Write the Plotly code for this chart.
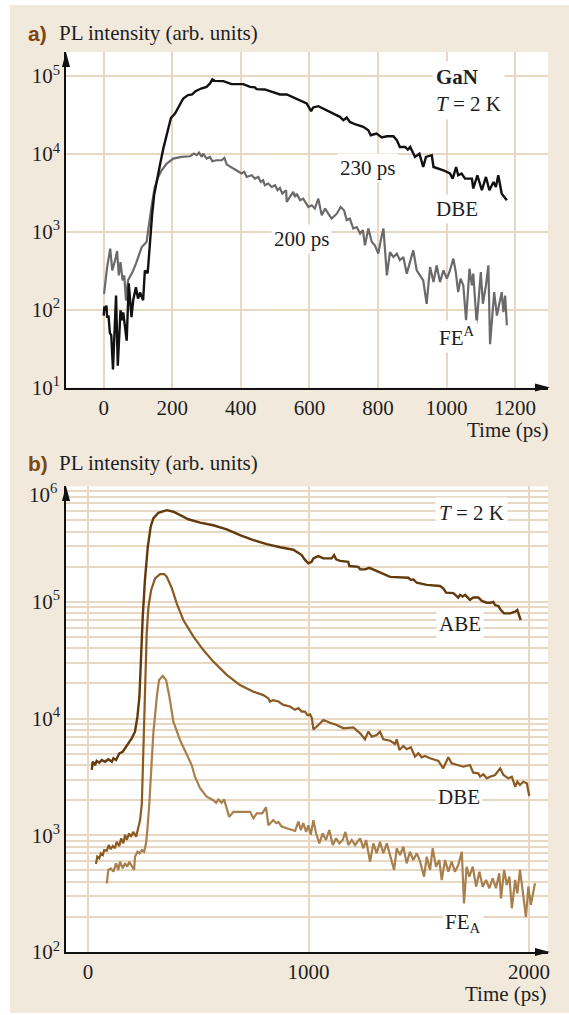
import plotly.graph_objects as go

W, H = 569, 1015

# ---------------- panel a: GaN, T = 2 K ----------------
t_dbe_a = [0, 2, 4, 8, 10, 14, 18, 22, 27, 36, 41, 49, 53, 57, 67, 73, 81, 86, 94, 100,
           106, 115, 120, 128, 130, 135, 141, 147, 154, 164, 174, 183, 196, 208, 217, 232,
           246, 258, 268, 284, 300, 310, 317, 324, 349, 373, 407, 427, 441, 446, 470, 499,
           514, 534, 558, 592, 605, 611, 626, 660, 689, 699, 709, 718, 733, 757, 772, 779,
           796, 811, 826, 845, 855, 864, 879, 887, 894, 908, 921, 932, 940, 957, 962, 991,
           1010, 1018, 1028, 1034, 1044, 1054, 1074, 1078, 1090, 1103, 1115, 1125, 1137,
           1144, 1151, 1161, 1176]
dbe_a = [84, 110, 98, 113, 79, 84, 50, 47, 17, 152, 19, 98, 73, 92, 40, 218, 80, 132, 194, 139,
         166, 132, 318, 294, 372, 830, 1630, 2940, 4370, 7200, 11800, 17400, 29000, 33000, 38400, 51600,
         57000, 58200, 64100, 69300, 72800, 80600, 90700, 87000, 86300, 78900, 78900, 72800, 71600, 68100, 67400, 61700,
         58200, 58200, 52600, 44500, 35500, 39600, 41100, 34700, 30000, 27200, 29400, 25800, 24100, 22300, 20200, 17400,
         18300, 16300, 16900, 16900, 15000, 12300, 12300, 11400, 12300, 9160, 10100, 6800, 9160, 9640, 6800, 6180,
         5610, 4830, 6800, 5330, 5610, 4830, 4830, 3600, 5330, 3420, 5070, 3420, 4370,
         3770, 5330, 3090, 2540]

t_fe_a = [1, 10, 19, 25, 33, 39, 44, 49, 55, 60, 65, 71, 84, 94, 111, 125, 140, 149, 159, 169,
          184, 203, 227, 252, 263, 271, 278, 286, 290, 300, 310, 317, 329, 344, 352, 359, 383,
          402, 410, 417, 432, 441, 451, 458, 465, 470, 480, 490, 500, 507, 514, 521, 532, 534,
          543, 553, 558, 563, 573, 582, 597, 607, 616, 626, 636, 646, 655, 665, 680, 691, 701,
          709, 718, 728, 738, 748, 756, 762, 772, 782, 791, 801, 808, 816, 826, 835, 845, 855,
          864, 874, 884, 894, 903, 913, 923, 932, 942, 952, 962, 971, 981, 991, 1001, 1010,
          1020, 1027, 1034, 1041, 1049, 1057, 1067, 1074, 1078, 1088, 1100, 1106, 1115, 1122,
          1127, 1139, 1147, 1153, 1161, 1166, 1171, 1176]
fe_a = [160, 352, 608, 320, 427, 566, 275, 407, 238, 275, 131, 238, 304, 389, 638, 741, 2190, 3770, 5070, 6180,
        7530, 8720, 9160, 9350, 10100, 9640, 10400, 9160, 10100, 8720, 9160, 8070, 8310, 8310, 8900, 7310, 6310,
        5610, 5890, 5070, 5330, 4830, 5070, 4370, 4590, 3960, 4170, 3770, 3960, 3420, 3660, 3090, 3420, 2420,
        2800, 3250, 2800, 3090, 2540, 2670, 2080, 2190, 1990, 2670, 1630, 1990, 1710, 1480, 1710, 2080, 1890,
        1410, 1480, 1100, 1150, 950, 1050, 670, 1100, 740, 670, 525, 776, 1100, 275, 550, 474, 525,
        431, 474, 290, 431, 578, 320, 275, 238, 119, 352, 226, 371, 226, 320, 250, 320,
        452, 304, 168, 250, 205, 73, 337, 205, 290, 66, 304, 119, 205, 371,
        36, 168, 84, 113, 168, 93, 152, 63]

ticks_a_x = [0, 200, 400, 600, 800, 1000, 1200]
ticks_a_y = [1e1, 1e2, 1e3, 1e4, 1e5]
labels_a_y = ["10<sup>1</sup>", "10<sup>2</sup>", "10<sup>3</sup>", "10<sup>4</sup>", "10<sup>5</sup>"]

# ---------------- panel b: T = 2 K ----------------
t_abe_b = [17, 21, 32, 39, 51, 62, 77, 92, 108, 115, 127, 142, 157, 168, 183, 198, 213, 221, 224, 233,
           240, 248, 258, 271, 284, 296, 319, 357, 387, 417, 455, 508, 568, 629, 689, 750, 810, 871,
           931, 969, 984, 999, 1014, 1022, 1044, 1067, 1105, 1116, 1125, 1143, 1180, 1185, 1226, 1234,
           1256, 1276, 1324, 1370, 1453, 1464, 1475, 1491, 1536, 1581, 1596, 1611, 1624, 1657, 1679,
           1687, 1699, 1710, 1732, 1747, 1770, 1786, 1808, 1826, 1838, 1846, 1861, 1872, 1887, 1914,
           1937, 1947, 1962]
abe_b = [3630, 4270, 4000, 4350, 4190, 4420, 4270, 4480, 4270, 4570, 4420, 5040, 5200, 5560, 6050, 6780, 7730, 9120, 10400, 15400,
         34000, 74700, 154000, 297000, 441000, 520000, 581000, 612000, 593000, 556000, 511000, 478000, 454000, 419000, 374000, 339000, 313000, 294000,
         280000, 252000, 229000, 214000, 221000, 236000, 247000, 236000, 236000, 252000, 232000, 225000, 221000, 203000, 200000, 190000,
         190000, 196000, 178000, 164000, 161000, 154000, 156000, 146000, 140000, 137000, 137000, 131000, 120000, 119000, 109000,
         115000, 111000, 115000, 104000, 109000, 109000, 102000, 98400, 98400, 100000, 94000, 92200, 85300, 79800, 79800,
         82400, 85300, 70000]

t_dbe_b = [36, 42, 51, 58, 67, 73, 85, 94, 103, 112, 122, 130, 142, 150, 160, 168, 176, 186, 195, 205,
           218, 228, 236, 244, 248, 251, 259, 266, 274, 286, 304, 327, 346, 357, 380, 402, 432, 478,
           523, 568, 629, 689, 750, 795, 818, 825, 840, 863, 886, 916, 939, 954, 969, 984, 995, 1007,
           1015, 1022, 1040, 1067, 1098, 1128, 1158, 1203, 1234, 1256, 1271, 1287, 1309, 1324, 1339,
           1370, 1392, 1400, 1412, 1430, 1445, 1464, 1483, 1498, 1513, 1528, 1551, 1589, 1611, 1634,
           1649, 1679, 1702, 1732, 1747, 1770, 1778, 1793, 1808, 1823, 1846, 1869, 1884, 1906, 1922,
           1937, 1947, 1959, 1974, 1990, 2001]
dbe_b = [568, 656, 635, 701, 678, 748, 738, 826, 759, 809, 774, 881, 809, 942, 853, 1010, 912, 1040, 973, 1070,
         973, 1150, 1350, 1880, 3630, 7000, 22900, 53800, 91000, 126000, 159000, 173000, 173000, 164000, 131000, 97300, 70000, 50400,
         38700, 30800, 23700, 19400, 17000, 15900, 14900, 14000, 14400, 14000, 13100, 12700, 11900, 12300, 11500, 11500, 10700, 10900,
         10100, 8090, 8640, 9720, 9230, 8810, 8260, 8420, 7480, 6650, 7730, 7000, 7230, 7730, 6650,
         6470, 6060, 6650, 5380, 5820, 5460, 5680, 4720, 5050, 4660, 4790, 4570, 4340, 3750, 4660,
         4140, 4000, 3870, 4000, 3440, 3400, 3180, 3330, 3080, 3180, 3290, 3750, 3290, 3080, 3180,
         2610, 2880, 2700, 2880, 2790, 2170]

t_fe_b = [85, 92, 103, 115, 127, 137, 145, 157, 168, 178, 187, 198, 209, 213, 224, 233, 244, 254, 263, 269,
          278, 289, 296, 312, 322, 339, 354, 369, 387, 417, 448, 470, 485, 508, 538, 568, 581, 591, 606,
          617, 640, 659, 735, 750, 765, 790, 807, 818, 840, 853, 863, 878, 901, 939, 954, 965, 976, 989,
          999, 1010, 1022, 1034, 1049, 1064, 1079, 1094, 1110, 1125, 1140, 1155, 1167, 1181, 1196, 1211,
          1234, 1249, 1261, 1279, 1294, 1309, 1324, 1339, 1355, 1370, 1388, 1400, 1415, 1430, 1445, 1460,
          1475, 1491, 1506, 1524, 1536, 1551, 1563, 1578, 1593, 1604, 1619, 1634, 1649, 1664, 1679, 1695,
          1705, 1717, 1729, 1745, 1760, 1775, 1790, 1805, 1820, 1835, 1850, 1865, 1873, 1887, 1899, 1911,
          1922, 1937, 1947, 1959, 1974, 1986, 1997, 2008, 2027]
fe_b = [388, 505, 521, 488, 575, 505, 594, 521, 575, 538, 594, 546, 505, 656, 723, 701, 748, 723, 853, 1110,
        1880, 4420, 7480, 15400, 21400, 23200, 21400, 15400, 9420, 6560, 4870, 4000, 3180, 2530, 2140, 2000, 1900, 2030, 1900,
        2030, 1440, 1590, 1590, 1400, 1540, 1540, 1740, 1220, 1350, 1270, 1300, 1190, 1150, 1090, 1310, 1110, 1270, 1070,
        1220, 1010, 1350, 1040, 853, 1040, 912, 1110, 826, 942, 853, 912, 1070, 826, 912, 826,
        942, 774, 912, 594, 853, 701, 881, 701, 853, 656, 505, 774, 678, 798, 575, 723,
        614, 701, 594, 442, 656, 505, 774, 538, 614, 414, 614, 488, 594, 488, 556, 723,
        261, 538, 442, 538, 363, 488, 363, 414, 352, 428, 352, 472, 288, 505, 375, 442,
        237, 414, 318, 505, 298, 200, 363, 253, 388]

ticks_b_x = [0, 1000, 2000]
ticks_b_y = [1e2, 1e3, 1e4, 1e5]
labels_b_y = ["10<sup>2</sup>", "10<sup>3</sup>", "10<sup>4</sup>", "10<sup>5</sup>"]
minor_b_y = [m * 10 ** e for e in (2, 3, 4, 5) for m in range(2, 10)]

# ---------------- styling ----------------
BG = "#f2e9dd"
GRID = "#e7d7c3"
SERIF = "Liberation Serif"
TXT = "#1e1e1e"
BROWN_LABEL = "#7c4713"


def px(x):
    return x / W


def py(y):
    return 1 - y / H


fig = go.Figure()

fig.add_trace(go.Scatter(x=t_fe_a, y=fe_a, xaxis="x", yaxis="y", mode="lines",
                         line=dict(color="#6a6a6a", width=2.2), showlegend=False))
fig.add_trace(go.Scatter(x=t_dbe_a, y=dbe_a, xaxis="x", yaxis="y", mode="lines",
                         line=dict(color="#111111", width=2.4), showlegend=False))

fig.add_trace(go.Scatter(x=t_fe_b, y=fe_b, xaxis="x2", yaxis="y2", mode="lines",
                         line=dict(color="#a8804e", width=2.2), showlegend=False))
fig.add_trace(go.Scatter(x=t_dbe_b, y=dbe_b, xaxis="x2", yaxis="y2", mode="lines",
                         line=dict(color="#8a5a22", width=2.2), showlegend=False))
fig.add_trace(go.Scatter(x=t_abe_b, y=abe_b, xaxis="x2", yaxis="y2", mode="lines",
                         line=dict(color="#633a0c", width=2.4), showlegend=False))

axis_common = dict(showgrid=True, gridcolor=GRID, gridwidth=1.6, zeroline=False,
                   showline=True, linecolor="#111111", linewidth=1.6, ticks="",
                   tickfont=dict(family=SERIF, size=21, color=TXT), automargin=False)

fig.update_layout(
    width=W, height=H,
    margin=dict(l=0, r=0, t=0, b=0),
    paper_bgcolor=BG, plot_bgcolor="white",
    showlegend=False,
    xaxis=dict(domain=[px(66), px(548)], range=[-110, 1296], anchor="y",
               tickmode="array", tickvals=ticks_a_x, **axis_common),
    yaxis=dict(domain=[py(387.5), py(52)], type="log", range=[1, 5.31], anchor="x",
               tickmode="array", tickvals=ticks_a_y, ticktext=labels_a_y, **axis_common),
    xaxis2=dict(domain=[px(66), px(548)], range=[-100, 2086], anchor="y2",
                tickmode="array", tickvals=ticks_b_x, **axis_common),
    yaxis2=dict(domain=[py(952), py(486.4)], type="log", range=[2, 5.99], anchor="x2",
                tickmode="array", tickvals=ticks_b_y, ticktext=labels_b_y,
                minor=dict(tickmode="array", tickvals=minor_b_y, showgrid=True,
                           gridcolor=GRID, gridwidth=1.6, ticks=""),
                **axis_common),
)

# white margin strips round the beige panel
shapes = [
    dict(type="rect", xref="paper", yref="paper", x0=0, x1=px(10), y0=0, y1=1,
         fillcolor="white", line=dict(width=0), layer="below"),
    dict(type="rect", xref="paper", yref="paper", x0=0, x1=1, y0=py(5), y1=1,
         fillcolor="white", line=dict(width=0), layer="below"),
    dict(type="rect", xref="paper", yref="paper", x0=0, x1=1, y0=0, y1=py(1013),
         fillcolor="white", line=dict(width=0), layer="below"),
]


def tri(points):
    p = " L ".join("%.5f,%.5f" % (px(x), py(y)) for x, y in points)
    return dict(type="path", xref="paper", yref="paper", path="M " + p + " Z",
                fillcolor="#111111", line=dict(width=0), layer="above")


# arrowheads on the axes
shapes += [
    tri([(62, 67), (66, 52), (70, 67)]),
    tri([(535, 383.5), (550, 387.5), (535, 391.5)]),
    tri([(62, 501), (66, 486), (70, 501)]),
    tri([(535, 948), (550, 952), (535, 956)]),
]
fig.update_layout(shapes=shapes)


def note(x, y, text, xanchor="left", size=21, color=TXT, family=SERIF, bg=None, pad=1):
    a = dict(x=px(x), y=py(y), xref="paper", yref="paper", text=text, showarrow=False,
             xanchor=xanchor, yanchor="middle", align="left",
             font=dict(family=family, size=size, color=color), borderpad=pad)
    if bg:
        a["bgcolor"] = bg
    return a


annotations = [
    # panel a
    note(26, 33, "<b>a)</b>", family="Liberation Sans", size=21, color=BROWN_LABEL),
    note(57, 33, "PL intensity (arb. units)"),
    note(551, 430, "Time (ps)", xanchor="right"),
    note(432, 90, "<b>GaN</b><br><i>T</i> = 2 K", bg="white", pad=3),
    note(337, 168, "230 ps", bg="white", pad=2),
    note(433, 209, "DBE", bg="white", pad=2),
    note(271, 239, "200 ps", bg="white", pad=2),
    note(436, 336, "FE<sup>A</sup>", bg="white", pad=2),
    # panel b
    note(26, 463, "<b>b)</b>", family="Liberation Sans", size=21, color=BROWN_LABEL),
    note(57, 463, "PL intensity (arb. units)"),
    note(549, 994, "Time (ps)", xanchor="right"),
    note(59, 493, "10<sup>6</sup>", xanchor="right"),
    note(435, 513, "<i>T</i> = 2 K", bg="white", pad=3),
    note(436, 624, "ABE", bg="white", pad=2),
    note(435, 797, "DBE", bg="white", pad=2),
    note(442, 923, "FE<sub>A</sub>", bg="white", pad=2),
]
fig.update_layout(annotations=annotations)

fig.write_html("out.html")
